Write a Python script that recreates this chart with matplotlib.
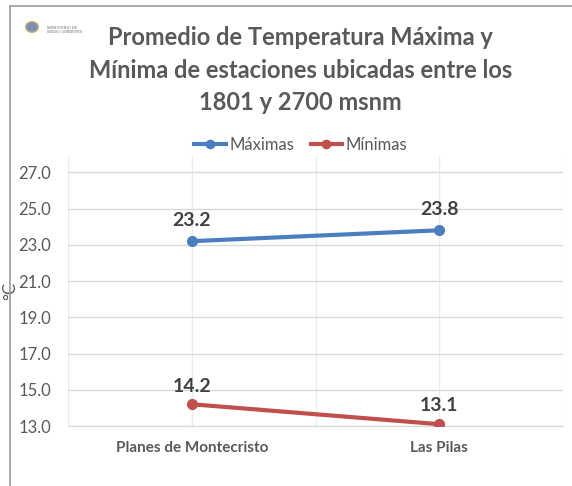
import matplotlib
matplotlib.use("Agg")
import matplotlib.pyplot as plt
from matplotlib.patches import Rectangle

plt.rcParams["font.family"] = ["Lato", "DejaVu Sans"]

# ── data ──────────────────────────────────────────────────────────────────────
stations = ["Planes de Montecristo", "Las Pilas"]
t_max = [23.2, 23.8]
t_min = [14.2, 13.1]
y_ticks = [13.0, 15.0, 17.0, 19.0, 21.0, 23.0, 25.0, 27.0]

COLOR_MAX = "#4A7EC0"
COLOR_MIN = "#C0504D"
TEXT = "#595959"
LABEL = "#404040"

fig = plt.figure(figsize=(5.72, 4.86), dpi=100)
ax = fig.add_axes([68 / 572, 1 - 426 / 486, (563 - 68) / 572, (426 - 156) / 486])

# frame around chart
fig.patches.append(Rectangle((10 / 572, -0.02), 0.99, 1 - 6 / 486 + 0.02,
                             transform=fig.transFigure, fill=False,
                             edgecolor="#9a9a9a", linewidth=1.2))

x = list(range(len(stations)))
ax.plot(x, t_max, color=COLOR_MAX, linewidth=3, marker="o", markersize=7,
        label="Máximas", zorder=3)
ax.plot(x, t_min, color=COLOR_MIN, linewidth=3, marker="o", markersize=7,
        label="Mínimas", zorder=3)

for xi, v in zip(x, t_max):
    ax.annotate(f"{v:.1f}", (xi, v), xytext=(0, 9), textcoords="offset points",
                ha="center", va="bottom", fontsize=14, fontweight="bold", color=LABEL)
for xi, v in zip(x, t_min):
    ax.annotate(f"{v:.1f}", (xi, v), xytext=(0, 7), textcoords="offset points",
                ha="center", va="bottom", fontsize=14, fontweight="bold", color=LABEL)

ax.set_xlim(-0.5, 1.5)
ax.set_ylim(13, 27.9)
ax.set_yticks(y_ticks)
ax.set_yticklabels([f"{t:.1f}" for t in y_ticks])
ax.set_xticks(x)
ax.set_xticklabels(stations, fontweight="bold")
ax.set_xticks([-0.5, 0.5, 1.5], minor=True)

ax.grid(axis="y", color="#d9d9d9", linewidth=1)
ax.grid(axis="x", which="both", color="#ebebeb", linewidth=1)
ax.set_axisbelow(True)
for s in ["top", "right", "left"]:
    ax.spines[s].set_visible(False)
ax.spines["bottom"].set_color("#d9d9d9")
ax.tick_params(axis="y", which="both", length=0, labelsize=12, colors=TEXT, pad=12)
ax.tick_params(axis="x", which="both", length=0, labelsize=11, colors=TEXT, pad=11)

ax.set_ylabel("°C", fontsize=12, color=TEXT)
ax.yaxis.set_label_coords(-0.1, 0.5)

ax.legend(loc="center", bbox_to_anchor=(0.47, 1.04), ncol=2, frameon=False,
          fontsize=12, labelcolor=TEXT, handlelength=1.9, columnspacing=1.0,
          handletextpad=0.2, markerscale=0.85)

fig.text(0.525, 1 - 26 / 486,
         "Promedio de Temperatura Máxima y\nMínima de estaciones ubicadas entre los\n1801 y 2700 msnm",
         ha="center", va="top", fontsize=17, fontweight="bold", color=TEXT,
         linespacing=1.5)

# small logo text
fig.text(47 / 572, 1 - 30 / 486, "MINISTERIO DE\nMEDIO AMBIENTE", fontsize=3,
         color="#666666", va="center", family="Liberation Serif")
fig.patches.append(plt.Circle((32 / 572, 1 - 27 / 486), 0.011, transform=fig.transFigure,
                              facecolor="#7f8fb8", edgecolor="#c9b46b"))

fig.savefig("out.png", dpi=100)
